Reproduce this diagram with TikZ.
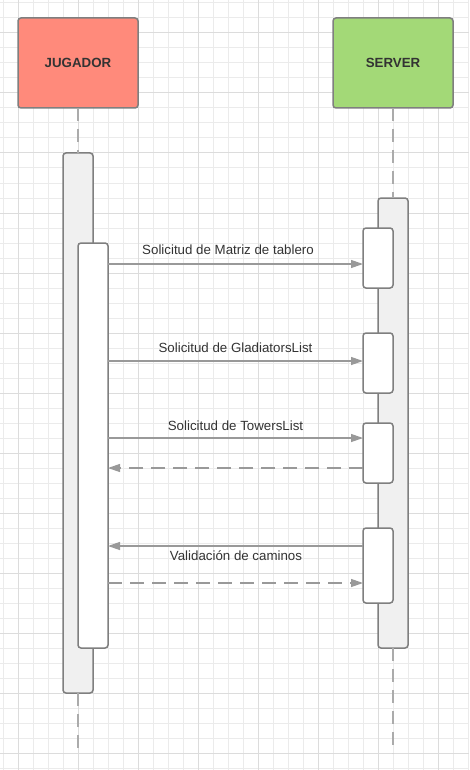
\documentclass[tikz,border=0pt]{standalone}
\usepackage{fontspec}
\setmainfont{Liberation Sans}
\usetikzlibrary{arrows.meta}
\definecolor{gridminor}{HTML}{EBEBEB}
\definecolor{gridmajor}{HTML}{DCDCDC}
\definecolor{salmon}{HTML}{FF8A7B}
\definecolor{lgreen}{HTML}{A3D977}
\definecolor{actfill}{HTML}{F0F0F0}
\definecolor{bordergrey}{HTML}{7F7F7F}
\definecolor{arrowgrey}{HTML}{999999}
\definecolor{lifegrey}{HTML}{ABABAB}
\definecolor{txt}{HTML}{333333}
\tikzset{
  every node/.style={inner sep=0pt, outer sep=0pt},
  actor/.style={draw=bordergrey, line width=1.5pt, rounded corners=3pt, minimum width=120pt, minimum height=90pt, font=\fontsize{13.3}{16}\selectfont\bfseries, text=txt},
  actbar/.style={draw=bordergrey, line width=1.5pt, rounded corners=3pt, minimum width=30pt, anchor=north west},
  lifeline/.style={draw=lifegrey, line width=1.5pt, dash pattern=on 13pt off 8pt},
  msg/.style={draw=arrowgrey, line width=1.2pt, -{Triangle[length=12pt,width=8pt]}},
  retmsg/.style={msg, dash pattern=on 14pt off 8pt},
  lbl/.style={font=\fontsize{13.3}{16}\selectfont, text=txt}
}
\begin{document}
\begin{tikzpicture}[x=1pt,y=-1pt]
\useasboundingbox (0,0) rectangle (469,770);
\fill[white] (0,0) rectangle (469,770);
% grid
\foreach \i in {0,...,31} {
  \draw[gridminor, line width=1pt] ({3+15*\i},0) -- ({3+15*\i},770);
}
\foreach \j in {0,...,51} {
  \draw[gridminor, line width=1pt] (0,{3+15*\j}) -- (469,{3+15*\j});
}
\foreach \i in {0,...,7} {
  \draw[gridmajor, line width=1pt] ({18+60*\i},0) -- ({18+60*\i},770);
}
\foreach \j in {0,...,12} {
  \draw[gridmajor, line width=1pt] (0,{33+60*\j}) -- (469,{33+60*\j});
}
% actors
\node[actor, fill=salmon] (jug) at (78,63) {JUGADOR};
\node[actor, fill=lgreen] (srv) at (393,63) {SERVER};
% lifeline ends
\coordinate (jend) at (78,753);
\coordinate (send) at (393,753);
% activation bars
\node[actbar, fill=actfill, minimum height=540pt] (jo) at (63,153) {};
\node[actbar, fill=actfill, minimum height=450pt] (so) at (378,198) {};
\draw[lifeline] (jug.south) -- (jo.north);
\draw[lifeline] (jo.south) -- (jend);
\draw[lifeline] (srv.south) -- (so.north);
\draw[lifeline] (so.south) -- (send);
\node[actbar, fill=white, minimum height=405pt] (ji) at (78,243) {};
\node[actbar, fill=white, minimum height=60pt] (s1) at (363,228) {};
\node[actbar, fill=white, minimum height=60pt] (s2) at (363,333) {};
\node[actbar, fill=white, minimum height=60pt] (s3) at (363,423) {};
\node[actbar, fill=white, minimum height=75pt] (s4) at (363,528) {};
% message levels
\coordinate (m1) at (0,264);
\coordinate (m2) at (0,361);
\coordinate (m3) at (0,438);
\coordinate (m4) at (0,468);
\coordinate (m5) at (0,546);
\coordinate (m6) at (0,583);
\draw[msg] (ji.east |- m1) -- (s1.west |- m1);
\draw[msg] (ji.east |- m2) -- (s2.west |- m2);
\draw[msg] (ji.east |- m3) -- (s3.west |- m3);
\draw[retmsg] (s3.west |- m4) -- (ji.east |- m4);
\draw[msg] (s4.west |- m5) -- (ji.east |- m5);
\draw[retmsg] (ji.east |- m6) -- (s4.west |- m6);
% labels
\node[lbl] (l1) at (228,250) {Solicitud de Matriz de tablero};
\node[lbl] (l2) at (235.5,348) {Solicitud de GladiatorsList};
\node[lbl] (l3) at (235.5,426) {Solicitud de TowersList};
\node[lbl] (l5) at (236,556) {Validación de caminos};
\end{tikzpicture}
\end{document}
